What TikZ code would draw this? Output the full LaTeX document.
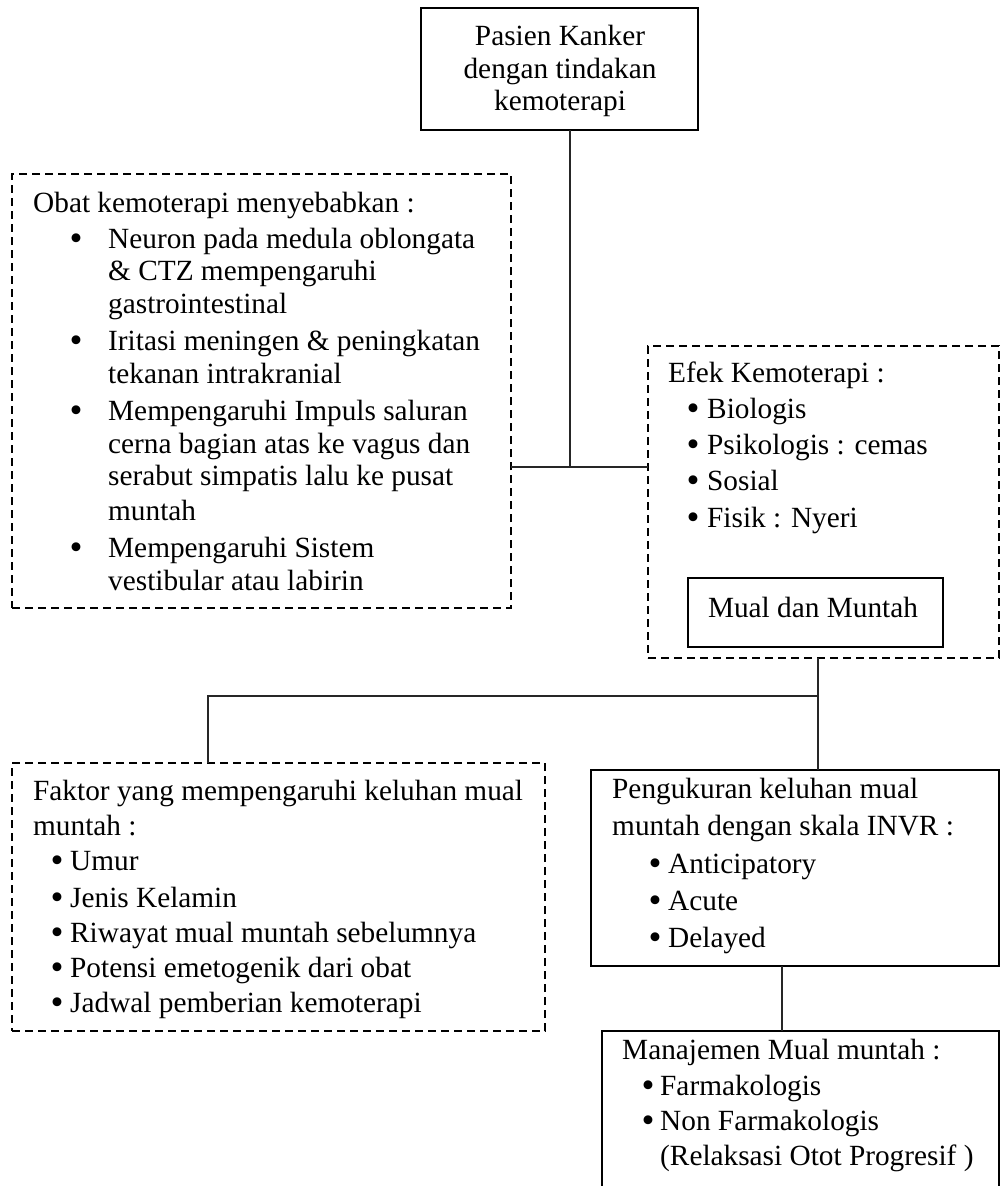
\documentclass[tikz,border=0pt]{standalone}
\usepackage{fontspec}
\setmainfont{Liberation Serif}
\begin{document}
\begin{tikzpicture}[x=1pt,y=-1pt,
  solidbox/.style={draw=black,line width=1.5pt,inner sep=0pt,outer sep=0pt,rectangle},
  dashbox/.style={draw=black,line width=1.5pt,dash pattern=on 8pt off 5pt,inner sep=0pt,outer sep=0pt,rectangle},
  conn/.style={draw=black!85,line width=1.4pt},
  txt/.style={anchor=base west,inner sep=0pt,font=\fontsize{29.3}{33}\selectfont},
  ctxt/.style={anchor=base,inner sep=0pt,font=\fontsize{29.3}{33}\selectfont},
  bul/.style={anchor=base,inner sep=0pt,yshift=-2.5pt,font=\fontsize{37}{37}\selectfont}]
\clip (0,0) rectangle (1000,1186);
\fill[white] (0,0) rectangle (1000,1186);

% boxes
\node[solidbox,minimum width=277pt,minimum height=122pt] (top) at (559.5,69) {};
\node[dashbox,minimum width=499pt,minimum height=434pt] (obat) at (261.5,391) {};
\node[dashbox,minimum width=351pt,minimum height=312pt] (efek) at (823.5,502) {};
\node[solidbox,minimum width=255pt,minimum height=69pt] (mual) at (815.5,612.5) {};
\node[dashbox,minimum width=533pt,minimum height=268pt] (faktor) at (278.5,897) {};
\node[solidbox,minimum width=408pt,minimum height=196pt] (ukur) at (795,868) {};
\node[solidbox,minimum width=397pt,minimum height=200pt] (manaj) at (800.5,1131) {};

% connectors
\coordinate (j1) at (570,467);
\coordinate (j2) at (818,696);
\coordinate (j3) at (208,696);
\coordinate (j4) at (782,1000);
\draw[conn] (top.south -| j1) -- (j1);
\draw[conn] (obat.east |- j1) -- (efek.west |- j1);
\draw[conn] (efek.south -| j2) -- (ukur.north -| j2);
\draw[conn] (j2) -- (j3) -- (faktor.north -| j3);
\draw[conn] (ukur.south -| j4) -- (manaj.north -| j4);

% top box text
\node[ctxt] (t1) at (560,45) {Pasien Kanker};
\node[ctxt] (t2) at (560,78) {dengan tindakan};
\node[ctxt] (t3) at (560,110) {kemoterapi};

% obat box text
\node[txt] (o0) at (33,212) {Obat kemoterapi menyebabkan :};
\node[bul] (ob1) at (76,248) {•};
\node[bul] (ob2) at (76,350) {•};
\node[bul] (ob3) at (76,420) {•};
\node[bul] (ob4) at (76,557) {•};
\node[txt] (o1) at (108,248) {Neuron pada medula oblongata};
\node[txt] (o2) at (108,280) {\& CTZ mempengaruhi};
\node[txt] (o3) at (108,313) {gastrointestinal};
\node[txt] (o4) at (108,350) {Iritasi meningen \& peningkatan};
\node[txt] (o5) at (108,383) {tekanan intrakranial};
\node[txt] (o6) at (108,420) {Mempengaruhi Impuls saluran};
\node[txt] (o7) at (108,453) {cerna bagian atas ke vagus dan};
\node[txt] (o8) at (108,485) {serabut simpatis lalu ke pusat};
\node[txt] (o9) at (108,520) {muntah};
\node[txt] (o10) at (108,557) {Mempengaruhi Sistem};
\node[txt] (o11) at (108,590) {vestibular atau labirin};

% efek box text
\node[txt] (e0) at (668,382) {Efek Kemoterapi :};
\node[bul] (eb1) at (693,418) {•};
\node[bul] (eb2) at (693,454) {•};
\node[bul] (eb3) at (693,490) {•};
\node[bul] (eb4) at (693,527) {•};
\node[txt] (e1) at (707,418) {Biologis};
\node[txt] (e2) at (707,454) {Psikologis : cemas};
\node[txt] (e3) at (707,490) {Sosial};
\node[txt] (e4) at (707,527) {Fisik : Nyeri};
\node[ctxt] (m1) at (813,617) {Mual dan Muntah};

% faktor box text
\node[txt] (f0) at (33,800) {Faktor yang mempengaruhi keluhan mual};
\node[txt] (f00) at (33,835) {muntah :};
\node[bul] (fb1) at (57,870) {•};
\node[bul] (fb2) at (57,907) {•};
\node[bul] (fb3) at (57,942) {•};
\node[bul] (fb4) at (57,977) {•};
\node[bul] (fb5) at (57,1012) {•};
\node[txt] (f1) at (70,870) {Umur};
\node[txt] (f2) at (70,907) {Jenis Kelamin};
\node[txt] (f3) at (70,942) {Riwayat mual muntah sebelumnya};
\node[txt] (f4) at (70,977) {Potensi emetogenik dari obat};
\node[txt] (f5) at (70,1012) {Jadwal pemberian kemoterapi};

% ukur box text
\node[txt] (u0) at (612,798) {Pengukuran keluhan mual};
\node[txt] (u00) at (612,835) {muntah dengan skala INVR :};
\node[bul] (ub1) at (655,873) {•};
\node[bul] (ub2) at (655,910) {•};
\node[bul] (ub3) at (655,947) {•};
\node[txt] (u1) at (668,873) {Anticipatory};
\node[txt] (u2) at (668,910) {Acute};
\node[txt] (u3) at (668,947) {Delayed};

% manajemen box text
\node[txt] (n0) at (622,1059) {Manajemen Mual muntah :};
\node[bul] (nb1) at (648,1095) {•};
\node[bul] (nb2) at (648,1130) {•};
\node[txt] (n1) at (660,1095) {Farmakologis};
\node[txt] (n2) at (660,1130) {Non Farmakologis};
\node[txt] (n3) at (660,1165) {(Relaksasi Otot Progresif )};
\end{tikzpicture}
\end{document}
